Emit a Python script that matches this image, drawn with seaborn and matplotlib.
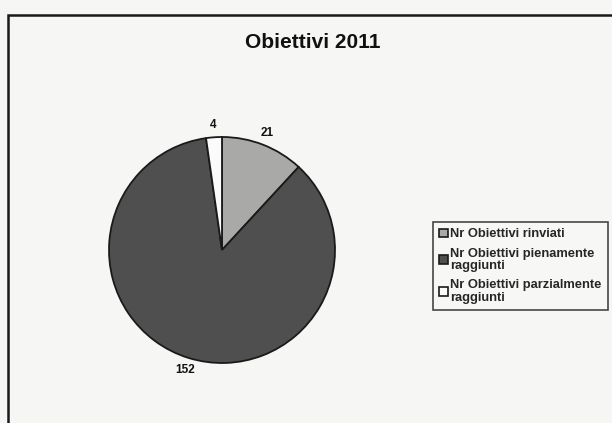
import matplotlib
matplotlib.use("Agg")
import matplotlib.pyplot as plt
import matplotlib.patches as mpatches
import seaborn as sns

sns.set_style("white")
plt.rcParams['font.family'] = ['Liberation Sans', 'DejaVu Sans']

# dati
categorie = ["Nr Obiettivi rinviati", "Nr Obiettivi pienamente\nraggiunti",
             "Nr Obiettivi parzialmente\nraggiunti"]
valori = [21, 152, 4]
colori = ["#a9a9a7", "#4f4f4f", "#fbfbfb"]

fig = plt.figure(figsize=(6.12, 4.23), dpi=100)
fig.patch.set_facecolor("#f6f6f4")

# cornice
fig.patches.append(mpatches.Rectangle((8 / 612, -0.05), 1.0, 1 - 15 / 423 + 0.05,
                                      transform=fig.transFigure, fill=False,
                                      edgecolor="#1a1a1a", linewidth=1.8))

ax = fig.add_axes([(222 - 113) / 612, 1 - (250 + 113) / 423, 226 / 612, 226 / 423])
ax.set_facecolor("none")
wedges, testi = ax.pie(valori, labels=[str(v) for v in valori], colors=colori,
                       startangle=90, counterclock=False, labeldistance=1.11,
                       wedgeprops=dict(edgecolor="#1a1a1a", linewidth=1.3),
                       textprops=dict(fontsize=8.5, fontweight="bold", color="#111111"))
for t in testi:
    t.set_ha("center")
    t.set_va("center")
ax.set_xlim(-1, 1)
ax.set_ylim(-1, 1)
ax.set_aspect("equal")

fig.text(313 / 612, 1 - 42 / 423, "Obiettivi 2011", ha="center", va="center",
         fontsize=15, fontweight="bold", color="#111111")

handles = [mpatches.Patch(facecolor=c, edgecolor="#1a1a1a", linewidth=1.2) for c in colori]
leg = fig.legend(handles, categorie, loc="upper left",
                 bbox_to_anchor=(433 / 612, 1 - 222 / 423),
                 frameon=True, fancybox=False, handlelength=0.65, handleheight=0.65,
                 handletextpad=0.15, labelspacing=0.55, borderpad=0.5, borderaxespad=0,
                 prop=dict(size=9.3, weight="bold"))
for t in leg.get_texts():
    t.set_linespacing(1.05)
leg.get_frame().set_edgecolor("#1a1a1a")
leg.get_frame().set_linewidth(1.2)
leg.get_frame().set_facecolor("#f8f8f6")

fig.savefig("out.png", dpi=100, facecolor=fig.get_facecolor())
